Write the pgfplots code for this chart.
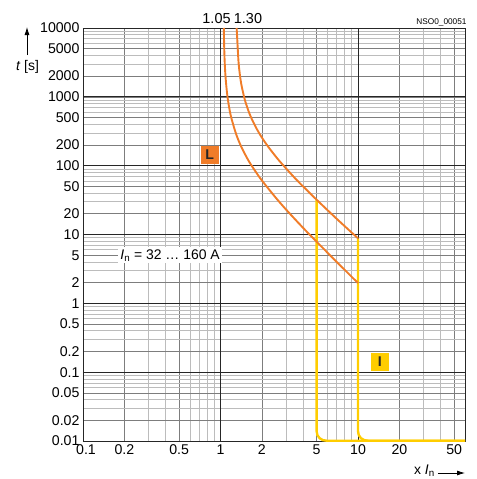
\documentclass[border=0pt]{standalone}
\usepackage{fontspec}
\setmainfont{Liberation Sans}
\usepackage{pgfplots}
\pgfplotsset{compat=1.18}
\usetikzlibrary{arrows.meta}
\definecolor{sorange}{RGB}{240,124,40}
\definecolor{syellow}{RGB}{255,205,0}
\definecolor{gridlight}{RGB}{188,188,188}
\definecolor{griddark}{RGB}{125,125,125}
\newcommand\tfont{\fontsize{14.2}{16}\selectfont}

\begin{document}
\begin{tikzpicture}[font=\fontsize{14}{16}\selectfont]
\begin{loglogaxis}[
  name=ax,
  scale only axis, width=382bp, height=413bp,
  xmin=0.1, xmax=60, ymin=0.01, ymax=10000,
  xtick={0.1,0.2,0.5,1,2,5,10,20,50},
  xticklabels={\hspace*{6bp}0.1,0.2,0.5,1,2,5,10,20,50},
  ytick={0.01,0.02,0.05,0.1,0.2,0.5,1,2,5,10,20,50,100,200,500,1000,2000,5000,10000},
  yticklabels={0.01,0.02,0.05,0.1,0.2,0.5,1,2,5,10,20,50,100,200,500,1000,2000,5000,10000},
  xticklabel style={font=\tfont},
  yticklabel style={font=\tfont},
  minor xtick={0.3,0.4,0.6,0.7,0.8,0.9,3,4,6,7,8,9,30,40},
  minor ytick={0.03,0.04,0.06,0.07,0.08,0.09,0.3,0.4,0.6,0.7,0.8,0.9,3,4,6,7,8,9,
    30,40,60,70,80,90,300,400,600,700,800,900,3000,4000,6000,7000,8000,9000},
  grid=both,
  major grid style={griddark, line width=0.6pt},
  minor grid style={gridlight, line width=0.6pt},
  extra x ticks={0.1,1,10}, extra x tick labels={},
  extra y ticks={0.01,0.1,1,10,100,1000,10000}, extra y tick labels={},
  extra tick style={grid=major, major grid style={black!85, line width=0.8pt}},
  major tick length=0pt, minor tick length=0pt,
  axis line style={black!85, line width=0.8pt},
  clip=false,
]
% I: instantaneous release
\addplot[syellow, line width=2.4pt] coordinates {
  (5,32) (5,0.0139) (5.064,0.0122) (5.252,0.011) (5.545,0.0103) (5.91,0.0101) (60,0.0101)};
\addplot[syellow, line width=2.4pt] coordinates {
  (10,8.8) (10,0.0139) (10.128,0.0122) (10.5,0.011) (11.09,0.0103) (11.82,0.0101) (60,0.0101)};
% L: overload release, lower and upper bound
\addplot[sorange, line width=1.9pt, smooth] coordinates {
  (1.057,10000) (1.065,4850) (1.075,2940) (1.09,1850) (1.12,1060) (1.16,673)
  (1.2,490) (1.3,286) (1.42,186) (1.6,118) (1.8,82) (2,61) (2.5,35)
  (3,23) (4,12.4) (5,7.86) (7,4.0) (10,1.97)};
\addplot[sorange, line width=1.9pt, smooth] coordinates {
  (1.31,10000) (1.32,7700) (1.35,3360) (1.38,2180) (1.42,1490) (1.5,918)
  (1.6,618) (1.7,462) (1.85,332) (2,256) (2.22,189) (2.6,126) (3,91)
  (3.5,65) (4,49.6) (5,32) (7,16.9) (10,8.8)};

\node[fill=sorange, text=black!85, font=\tfont\bfseries,
  minimum size=18bp, inner sep=0pt] at (axis cs:0.836,142.6) {L};
\node[fill=syellow, text=black!85, font=\tfont\bfseries,
  minimum size=18bp, inner sep=0pt] at (axis cs:14.4,0.141) {I};
\node[fill=white, inner sep=2bp, font=\fontsize{14}{16}\selectfont]
  at (axis cs:0.43,5) {\textit{I}\textsubscript{n} = 32 … 160 A};

\node[anchor=base, inner sep=0pt, font=\fontsize{14.5}{16}\selectfont]
  at (rel axis cs:0.3495,1.0097) {1.05};
\node[anchor=base, inner sep=0pt, font=\fontsize{14.5}{16}\selectfont]
  at (rel axis cs:0.4319,1.0097) {1.30};
\node[anchor=base east, inner sep=0pt, font=\fontsize{8.3}{10}\selectfont]
  at (rel axis cs:1.0045,1.0073) {NSO0\_00051};

\node[font=\fontsize{14}{16}\selectfont] at (rel axis cs:-0.1453,0.9056) {\textit{t} [s]};
\draw[-{Latex[length=8bp,width=5bp]}, line width=0.8pt]
  (rel axis cs:-0.1466,0.9346) -- (rel axis cs:-0.1466,1.0024);
\node[anchor=east, inner sep=1bp, font=\fontsize{14}{16}\selectfont]
  at (rel axis cs:0.924,-0.0726) {x \textit{I}\textsubscript{n}};
\draw[-{Latex[length=8bp,width=5bp]}, line width=0.8pt]
  (rel axis cs:0.929,-0.0775) -- (rel axis cs:1.0,-0.0775);
\end{loglogaxis}
\pgfresetboundingbox
\path[use as bounding box] ([xshift=-83bp,yshift=-38bp]ax.south west)
  rectangle ([xshift=12bp,yshift=28bp]ax.north east);
\end{tikzpicture}
\end{document}
